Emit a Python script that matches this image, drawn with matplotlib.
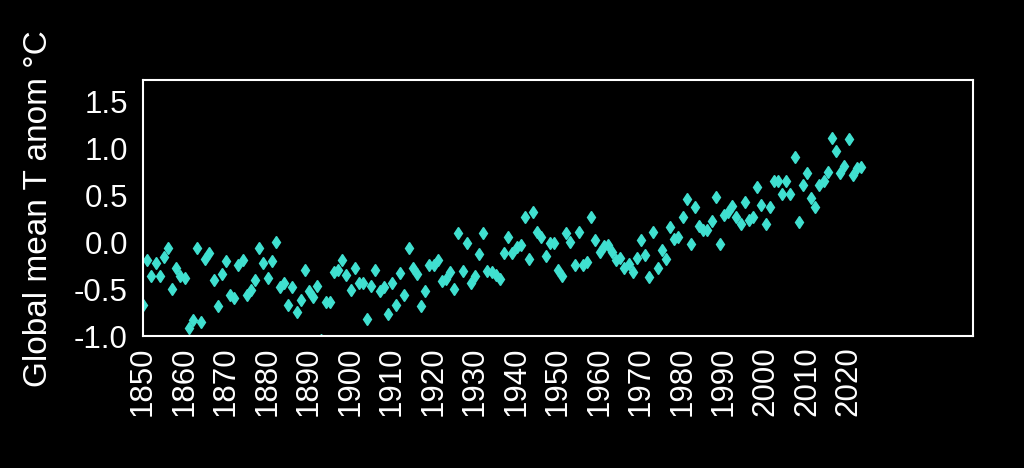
import numpy as np
import matplotlib
matplotlib.use('Agg')
import matplotlib.pyplot as plt

plt.rcParams['font.family'] = ['Liberation Sans', 'DejaVu Sans']

years = np.arange(1850, 2024)

# annual anomalies, one per year 1850..2023
anom = [
    -0.66, -0.19, -0.36, -0.22, -0.36, -0.15, -0.06, -0.49, -0.27, -0.36,  # 1850s
    -0.38, -0.91, -0.82, -0.06, -0.85, -0.17, -0.11, -0.40, -0.68, -0.33,  # 1860s
    -0.20, -0.56, -0.59, -0.24, -0.19, -0.56, -0.51, -0.40, -0.06, -0.22,  # 1870s
    -0.38, -0.20, 0.01, -0.47, -0.43, -0.66, -0.47, -0.74, -0.61, -0.29,   # 1880s
    -0.52, -0.58, -0.46, -1.04, -0.63, -0.63, -0.31, -0.29, -0.19, -0.35,  # 1890s
    -0.51, -0.27, -0.43, -0.43, -0.81, -0.46, -0.29, -0.52, -0.47, -0.76,  # 1900s
    -0.43, -0.66, -0.32, -0.56, -0.06, -0.27, -0.34, -0.68, -0.52, -0.24,  # 1910s
    -0.24, -0.19, -0.41, -0.39, -0.31, -0.49, 0.10, -0.30, 0.00, -0.43,    # 1920s
    -0.36, -0.12, 0.10, -0.30, -0.31, -0.35, -0.39, -0.11, 0.06, -0.11,    # 1930s
    -0.05, -0.03, 0.27, -0.17, 0.33, 0.11, 0.06, -0.14, 0.00, 0.00,        # 1940s
    -0.29, -0.36, 0.10, 0.01, -0.24, 0.11, -0.24, -0.21, 0.27, 0.03,       # 1950s
    -0.10, -0.04, -0.03, -0.10, -0.19, -0.16, -0.27, -0.23, -0.31, -0.16,  # 1960s
    0.03, -0.13, -0.37, 0.11, -0.27, -0.08, -0.17, 0.17, 0.04, 0.06,       # 1970s
    0.27, 0.46, -0.02, 0.38, 0.18, 0.13, 0.13, 0.23, 0.48, -0.02,          # 1980s
    0.29, 0.33, 0.39, 0.27, 0.20, 0.43, 0.24, 0.27, 0.59, 0.40,            # 1990s
    0.20, 0.38, 0.66, 0.66, 0.52, 0.66, 0.52, 0.91, 0.22, 0.61,            # 2000s
    0.74, 0.47, 0.38, 0.61, 0.66, 0.75, 1.11, 0.97, 0.74, 0.82,            # 2010s
    1.10, 0.72, 0.79, 0.80,                                                # 2020s
]

xticks = np.arange(1850, 2021, 10)
yticks = [-1.0, -0.5, 0.0, 0.5, 1.0, 1.5]

fig = plt.figure(figsize=(10.24, 4.68), dpi=100, facecolor='black')
ax = fig.add_axes([0.1397, 0.281, 0.8105, 0.548], facecolor='black')

ax.plot(years, anom, 'd', color='turquoise', markersize=6)

ax.set_xlim(1850, 2050)
ax.set_ylim(-1.0, 1.73)
ax.set_xticks(xticks)
ax.set_xticklabels([str(y) for y in xticks], rotation=90)
ax.set_yticks(yticks)
ax.set_yticklabels(['%.1f' % v for v in yticks])
ax.tick_params(colors='white', labelsize=22.5, length=0)
ax.tick_params(axis='x', pad=7)
ax.tick_params(axis='y', pad=11)
for s in ax.spines.values():
    s.set_color('white')
    s.set_linewidth(1.5)
ax.set_ylabel('Global mean T anom °C', color='white', fontsize=24, labelpad=14)

fig.savefig('out.png', facecolor='black')
